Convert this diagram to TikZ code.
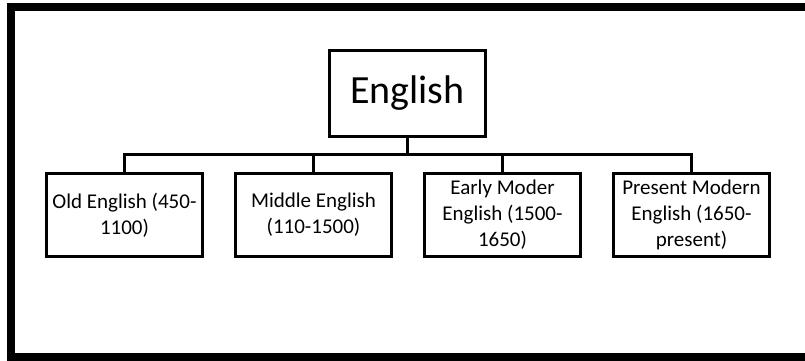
\documentclass[tikz,border=0pt]{standalone}
\usepackage{fontspec}
\setmainfont{Carlito}
\usetikzlibrary{positioning}

\begin{document}
\begin{tikzpicture}[x=1pt, y=1pt, node distance=189pt, on grid,
    period/.style={draw, rectangle, line width=3pt, minimum width=156pt,
      minimum height=83pt, inner sep=1pt, align=center,
      font=\fontsize{21}{26}\selectfont},
    link/.style={line width=3pt}]
  \useasboundingbox (0,0) rectangle (805,361);
  % outer frame, open on the right
  \draw[line width=8.4pt] (805,353.8) -- (11,353.8) -- (11,4.2) -- (805,4.2);
  \node[draw, rectangle, line width=3pt, minimum width=156pt, minimum height=86pt,
    font=\fontsize{40}{48}\selectfont] (eng) at (407.5,267.5) {English};
  \node[period] (old) at (124.5,146) {Old English (450-\\1100)};
  \node[period] [right=of old] (middle) {Middle English\\(110-1500)};
  \node[period] [right=of middle] (early) {Early Moder\\English (1500-\\1650)};
  \node[period] [right=of early] (present) {Present Modern\\English (1650-\\present)};
  \draw[link] (eng.south) -- ++(0,-17);
  \draw[link] (old.north) -- ++(0,17) -| (present.north);
  \draw[link] (middle.north) -- ++(0,17);
  \draw[link] (early.north) -- ++(0,17);
\end{tikzpicture}
\end{document}
